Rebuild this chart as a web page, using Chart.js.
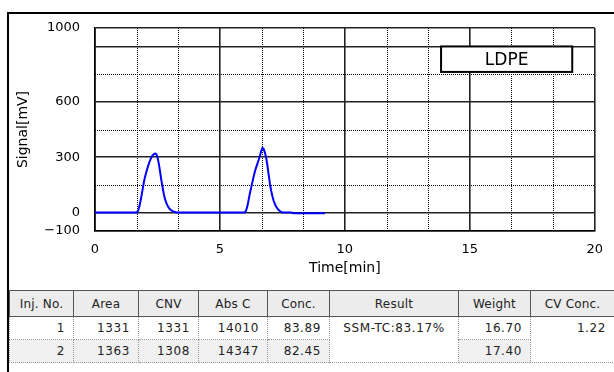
<!DOCTYPE html>
<html><head><meta charset="utf-8">
<script src="https://cdn.jsdelivr.net/npm/chart.js@4"></script>
<style>
html,body{margin:0;padding:0;background:#fff;width:614px;height:372px;overflow:hidden;font-family:"DejaVu Sans",sans-serif;}
#wrap{position:absolute;left:0;top:0;width:614px;height:290px;}
#frameTop{position:absolute;left:7px;top:12px;width:607px;height:2px;background:#000;}
#frameLeft{position:absolute;left:7px;top:12px;width:2px;height:360px;background:#000;}
table{position:absolute;left:9px;top:290px;border-collapse:collapse;table-layout:fixed;width:605px;color:#222;font-size:12px;font-family:"DejaVu Sans",sans-serif;}
th{background:#ececec;font-weight:normal;border:1px solid #555;height:25px;padding:0;text-align:center;letter-spacing:0.2px;}
td{border:1px dotted #999;height:22px;padding:0 8px 0 0;text-align:right;letter-spacing:0.6px;}
tr.r2 td{background:#f0f0f0;}
td.span{background:#fff !important;vertical-align:top;padding-top:4px;}
td.res{text-align:center;padding:4px 0 0 0;}
</style></head>
<body>
<div id="wrap"><canvas id="c" width="614" height="290"></canvas></div>
<div id="frameTop"></div><div id="frameLeft"></div>
<table id="tbl">
<colgroup><col style="width:64px"><col style="width:65px"><col style="width:60px"><col style="width:69px"><col style="width:62px"><col style="width:129px"><col style="width:72px"><col style="width:84px"></colgroup>
<thead><tr id="hdr"></tr></thead>
<tbody id="body"></tbody>
</table>
<script>
// ---- data ----
const times  = [0, 1.00, 1.68, 1.73, 1.78, 1.83, 1.88, 1.93, 1.98, 2.03, 2.08, 2.13, 2.18, 2.23, 2.28, 2.33, 2.38, 2.42, 2.46, 2.50, 2.55, 2.60, 2.65, 2.70, 2.75, 2.80, 2.85, 2.90, 2.95, 3.00, 3.10, 3.20, 3.25, 4.50, 6.00, 6.05, 6.10, 6.15, 6.20, 6.25, 6.30, 6.35, 6.40, 6.45, 6.50, 6.55, 6.60, 6.65, 6.70, 6.75, 6.80, 6.85, 6.90, 6.95, 7.00, 7.05, 7.10, 7.15, 7.20, 7.25, 7.30, 7.35, 7.40, 7.45, 7.50, 7.85, 7.95, 9.20];
const signal = [0, 0, 0, 12, 35, 68, 105, 145, 180, 208, 232, 254, 274, 291, 305, 314, 319, 320, 314, 300, 268, 225, 180, 140, 103, 74, 53, 38, 27, 18, 8, 3, 0, 0, 0, 12, 35, 70, 105, 135, 165, 195, 222, 245, 265, 285, 308, 332, 350, 345, 325, 298, 255, 205, 158, 118, 88, 64, 46, 32, 22, 14, 8, 3, 0, 0, -4, -4];
const xSolid  = [0, 5, 10, 15, 20];
const xDotted = [1.6667, 3.3333, 6.6667, 8.3333, 11.6667, 13.3333, 16.6667, 18.3333];
const ySolid  = [-100, 0, 300, 600, 900, 1000];
const yDotted = [150, 450, 750];
const yLabels = [-100, 0, 300, 600, 1000];
const sampleName = 'LDPE';
const labelBox = [13.85, 19.1, 900, 762]; // x1,x2 (min), y1,y2 (mV)

const headers = ['Inj. No.', 'Area', 'CNV', 'Abs C', 'Conc.', 'Result', 'Weight', 'CV Conc.'];
const injNo  = ['1', '2'];
const area   = ['1331', '1363'];
const cnv    = ['1331', '1308'];
const absC   = ['14010', '14347'];
const conc   = ['83.89', '82.45'];
const result = 'SSM-TC:83.17%';
const weight = ['16.70', '17.40'];
const cvConc = '1.22';

// ---- table ----
document.getElementById('hdr').innerHTML = headers.map(h => '<th>' + h + '</th>').join('');
let rows = '';
for (let i = 0; i < injNo.length; i++) {
  rows += '<tr class="r' + (i + 1) + '"><td>' + injNo[i] + '</td><td>' + area[i] + '</td><td>' + cnv[i] + '</td><td>' + absC[i] + '</td><td>' + conc[i] + '</td>';
  if (i === 0) rows += '<td class="span res" rowspan="2">' + result + '</td>';
  rows += '<td>' + weight[i] + '</td>';
  if (i === 0) rows += '<td class="span" rowspan="2">' + cvConc + '</td>';
  rows += '</tr>';
}
document.getElementById('body').innerHTML = rows;

// ---- chart ----
const FONT = "'DejaVu Sans', sans-serif";
const overlay = {
  id: 'overlay',
  beforeDatasetsDraw(chart) {
    const {ctx, chartArea: a, scales: {x, y}} = chart;
    ctx.save();
    ctx.strokeStyle = '#000';
    ctx.lineWidth = 1;
    ctx.setLineDash([1, 1]);
    xDotted.forEach(v => {
      const px = Math.round(x.getPixelForValue(v)) + 0.5;
      ctx.beginPath(); ctx.moveTo(px, a.top); ctx.lineTo(px, a.bottom); ctx.stroke();
    });
    yDotted.forEach(v => {
      const py = Math.round(y.getPixelForValue(v)) + 0.5;
      ctx.beginPath(); ctx.moveTo(a.left, py); ctx.lineTo(a.right, py); ctx.stroke();
    });
    ctx.restore();
  },
  afterDatasetsDraw(chart) {
    const {ctx, scales: {x, y}} = chart;
    const x1 = x.getPixelForValue(labelBox[0]), x2 = x.getPixelForValue(labelBox[1]);
    const y1 = y.getPixelForValue(labelBox[2]), y2 = y.getPixelForValue(labelBox[3]);
    ctx.save();
    ctx.fillStyle = '#fff';
    ctx.fillRect(x1, y1, x2 - x1, y2 - y1);
    ctx.strokeStyle = '#000';
    ctx.lineWidth = 2;
    ctx.strokeRect(x1, y1, x2 - x1, y2 - y1);
    ctx.fillStyle = '#000';
    ctx.font = '17px ' + FONT;
    ctx.textAlign = 'center';
    ctx.textBaseline = 'middle';
    ctx.fillText(sampleName, (x1 + x2) / 2, (y1 + y2) / 2 + 1);
    ctx.restore();
  }
};

new Chart(document.getElementById('c'), {
  type: 'line',
  data: {
    datasets: [{
      data: times.map((t, i) => ({x: t, y: signal[i]})),
      borderColor: '#0000ff',
      borderWidth: 2,
      pointRadius: 0,
      tension: 0,
      fill: false
    }]
  },
  options: {
    responsive: false,
    animation: false,
    layout: {padding: {top: 28, right: 15, left: 0, bottom: 0}},
    plugins: {legend: {display: false}, tooltip: {enabled: false}},
    scales: {
      x: {
        type: 'linear', min: 0, max: 20,
        afterBuildTicks: s => { s.ticks = xSolid.map(v => ({value: v})); },
        afterFit: s => { s.height = 59; },
        ticks: {color: '#000', font: {size: 13, family: FONT}, padding: 11, maxRotation: 0, autoSkip: false},
        grid: {color: '#222', lineWidth: 1.6, drawTicks: false},
        border: {display: true, color: '#000', width: 1.6},
        title: {display: true, text: 'Time[min]', color: '#000', font: {size: 14, family: FONT}, padding: {top: 0, bottom: 13}}
      },
      y: {
        type: 'linear', min: -100, max: 1000,
        afterBuildTicks: s => { s.ticks = ySolid.map(v => ({value: v})); },
        afterFit: s => { s.width = 95; },
        ticks: {
          color: '#000', font: {size: 13, family: FONT}, padding: 15, autoSkip: false,
          callback: v => yLabels.includes(v) ? String(v).replace('-', '\u2212') : ''
        },
        grid: {color: '#222', lineWidth: 1.6, drawTicks: false},
        border: {display: true, color: '#000', width: 1.6},
        title: {display: true, text: 'Signal[mV]', color: '#000', font: {size: 14, family: FONT}, padding: {top: 15, bottom: 0}}
      }
    }
  },
  plugins: [overlay]
});
</script>
</body></html>
